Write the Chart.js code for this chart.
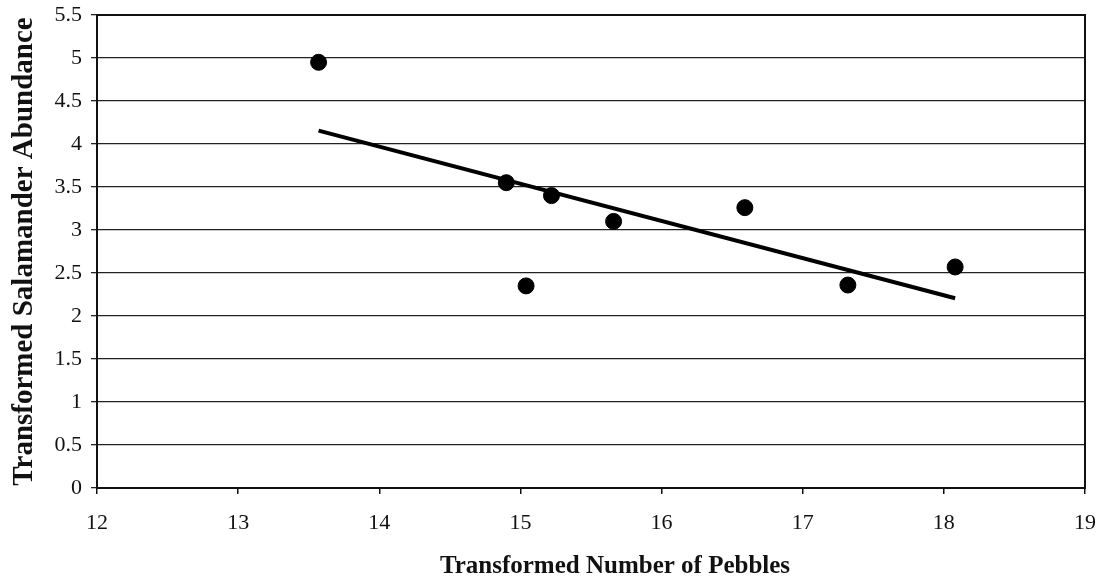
<!DOCTYPE html>
<html>
<head>
<meta charset="utf-8">
<script src="https://cdn.jsdelivr.net/npm/chart.js@4.4.1/dist/chart.umd.min.js"></script>
<style>
  html, body { margin: 0; padding: 0; background: #ffffff; }
  #wrap { width: 1106px; height: 581px; position: relative; }
</style>
</head>
<body>
<div id="wrap"><canvas id="c" width="1106" height="581"></canvas></div>
<script>
// Observed data points (Transformed Number of Pebbles vs Transformed Salamander Abundance)
const pebbles   = [13.57, 14.90, 15.04, 15.22, 15.66, 16.59, 17.32, 18.08];
const abundance = [4.95, 3.55, 2.35, 3.40, 3.10, 3.26, 2.36, 2.57];

// Fitted trend line end points
const trendX = [13.57, 18.08];
const trendY = [4.155, 2.206];

// Axis settings
const xTicks = [12, 13, 14, 15, 16, 17, 18, 19];
const yTicks = [0, 0.5, 1, 1.5, 2, 2.5, 3, 3.5, 4, 4.5, 5, 5.5];
const xTitle = 'Transformed Number of Pebbles';
const yTitle = 'Transformed Salamander Abundance';

const scatterData = pebbles.map((x, i) => ({ x: x, y: abundance[i] }));
const trendData = trendX.map((x, i) => ({ x: x, y: trendY[i] }));

const serif = "'Liberation Serif', 'Times New Roman', serif";

const borderPlugin = {
  id: 'plotBorder',
  afterDatasetsDraw(chart) {
    const a = chart.chartArea, ctx = chart.ctx;
    ctx.save();
    ctx.strokeStyle = '#111';
    ctx.lineWidth = 2;
    ctx.strokeRect(a.left, a.top, a.right - a.left, a.bottom - a.top);
    ctx.restore();
  }
};

// x-axis title, drawn slightly right of centre as in the original
const xTitlePlugin = {
  id: 'xTitle',
  afterDraw(chart) {
    const a = chart.chartArea, ctx = chart.ctx;
    ctx.save();
    ctx.fillStyle = '#111';
    ctx.font = 'bold 25px ' + serif;
    ctx.textAlign = 'center';
    ctx.textBaseline = 'middle';
    ctx.fillText(xTitle, (a.left + a.right) / 2 + 24, 567);
    ctx.restore();
  }
};

function noLabelPadding(scale) {
  scale.paddingTop = 0; scale.paddingBottom = 0;
  scale.paddingLeft = 0; scale.paddingRight = 0;
}

new Chart(document.getElementById('c'), {
  type: 'scatter',
  data: {
    datasets: [
      {
        type: 'line',
        label: 'Trend',
        data: trendData,
        borderColor: '#000',
        borderWidth: 4,
        pointRadius: 0,
        fill: false,
        order: 2
      },
      {
        label: 'Observed',
        data: scatterData,
        backgroundColor: '#000',
        borderColor: '#000',
        pointRadius: 8,
        pointHoverRadius: 8,
        order: 1
      }
    ]
  },
  options: {
    responsive: false,
    animation: false,
    layout: { padding: { top: 15, right: 21, left: 0, bottom: 0 } },
    plugins: { legend: { display: false }, tooltip: { enabled: false } },
    scales: {
      x: {
        type: 'linear',
        min: 12, max: 19,
        afterBuildTicks(scale) { scale.ticks = xTicks.map(v => ({ value: v })); },
        afterFit(scale) { scale.height = 93; noLabelPadding(scale); },
        grid: { drawOnChartArea: false, drawTicks: true, tickLength: 6, color: '#111', lineWidth: 1.5 },
        border: { display: true, color: '#111', width: 2 },
        ticks: { color: '#111', padding: 16, font: { family: serif, size: 22 }, maxRotation: 0,
                 callback: v => String(v) },
        title: { display: false }
      },
      y: {
        type: 'linear',
        min: 0, max: 5.5,
        afterBuildTicks(scale) { scale.ticks = yTicks.map(v => ({ value: v })); },
        afterFit(scale) { scale.width = 97; noLabelPadding(scale); },
        grid: { drawOnChartArea: true, drawTicks: true, tickLength: 6, color: '#222', lineWidth: 1.3 },
        border: { display: true, color: '#111', width: 2 },
        ticks: { color: '#111', padding: 9, font: { family: serif, size: 22 },
                 callback: v => String(v) },
        title: { display: true, text: yTitle, color: '#111', padding: { top: 7, bottom: 0 },
                 font: { family: serif, size: 29, weight: 'bold' } }
      }
    }
  },
  plugins: [borderPlugin, xTitlePlugin]
});
</script>
</body>
</html>
